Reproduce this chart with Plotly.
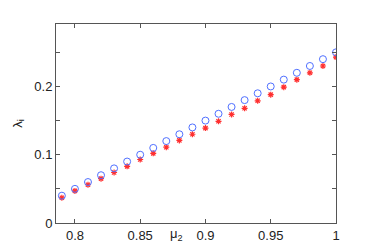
import plotly.graph_objects as go

mu = [0.79, 0.80, 0.81, 0.82, 0.83, 0.84, 0.85, 0.86, 0.87, 0.88, 0.89,
      0.90, 0.91, 0.92, 0.93, 0.94, 0.95, 0.96, 0.97, 0.98, 0.99, 1.00]
lam_circle = [0.040, 0.050, 0.060, 0.070, 0.080, 0.090, 0.100, 0.110, 0.120, 0.130, 0.140,
              0.150, 0.160, 0.170, 0.180, 0.190, 0.200, 0.210, 0.220, 0.230, 0.240, 0.250]
lam_star = [0.037, 0.047, 0.056, 0.065, 0.074, 0.083, 0.093, 0.102, 0.111, 0.121, 0.130,
            0.139, 0.149, 0.159, 0.168, 0.179, 0.188, 0.199, 0.210, 0.220, 0.230, 0.243]

x_ticks = [0.8, 0.85, 0.9, 0.95, 1.0]
x_labels = ["0.8", "0.85", "0.9", "0.95", "1"]
y_ticks = [0, 0.05, 0.1, 0.15, 0.2, 0.25]
y_labels = ["0", " ", "0.1", " ", "0.2", " "]

FONT = dict(family="Liberation Sans, Arial", size=13, color="#222222")

fig = go.Figure()
fig.add_trace(go.Scatter(x=mu, y=lam_star, mode="markers",
                         marker=dict(symbol="asterisk-open", size=5, color="#ff3030",
                                     line=dict(color="#ff3030", width=1.2))))
fig.add_trace(go.Scatter(x=mu, y=lam_circle, mode="markers",
                         marker=dict(symbol="circle-open", size=7, color="#5070ff",
                                     line=dict(color="#5070ff", width=1))))

axis_common = dict(showgrid=False, zeroline=False, showline=True, linecolor="#555555",
                   linewidth=1, mirror="ticks", ticks="inside", ticklen=4,
                   tickcolor="#555555", tickfont=FONT)
fig.update_xaxes(range=[0.7855, 1.0], tickvals=x_ticks, ticktext=x_labels, **axis_common)
fig.update_yaxes(range=[0, 0.2915], tickvals=y_ticks, ticktext=y_labels, **axis_common)

fig.add_annotation(text="μ<sub>2</sub>", xref="paper", yref="paper", x=0.43, y=-0.06,
                   xanchor="center", yanchor="middle", showarrow=False, font=FONT)
fig.add_annotation(text="λ<sub>i</sub>", xref="paper", yref="paper", x=-0.135, y=0.5,
                   xanchor="center", yanchor="middle", showarrow=False, textangle=-90,
                   font=FONT)

fig.update_layout(width=365, height=242, showlegend=False,
                  margin=dict(l=48, r=37, t=16, b=27, autoexpand=False),
                  plot_bgcolor="white", paper_bgcolor="white")
fig.write_html("out.html")
